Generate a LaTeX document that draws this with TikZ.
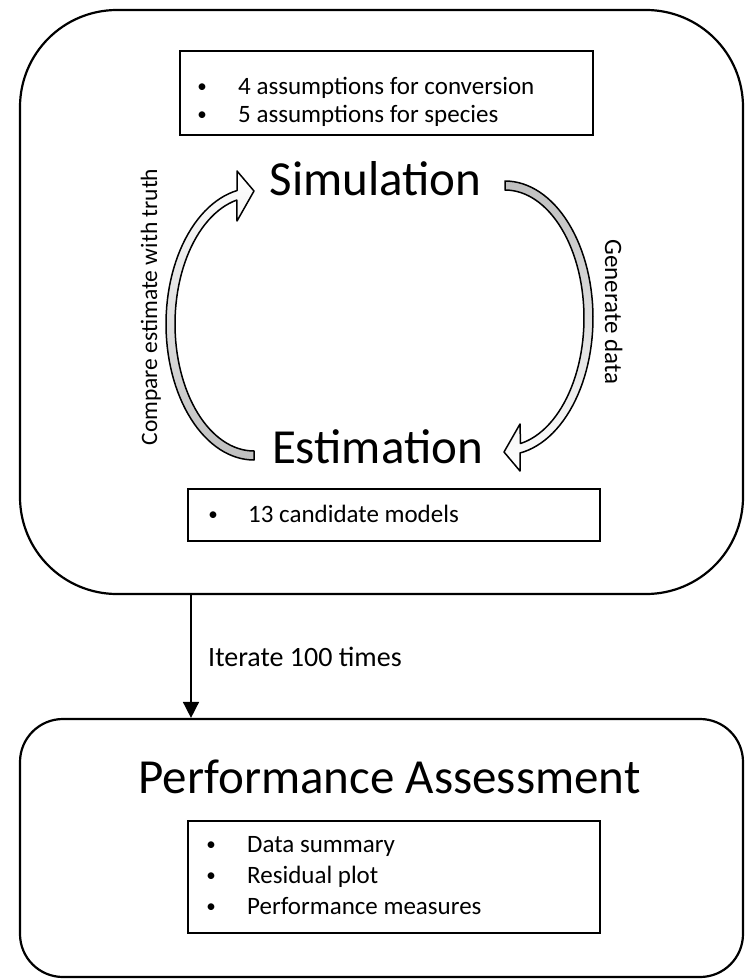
\documentclass[tikz,border=0pt]{standalone}
\usepackage{fontspec}
\setmainfont{Carlito}
\usetikzlibrary{arrows.meta}
\tikzset{
  bigbox/.style={draw, line width=2.2pt, inner sep=0pt},
  ibox/.style={draw, line width=1.6pt, inner sep=0pt},
  bul/.style={font=\fontsize{19}{24}\selectfont, anchor=base, inner sep=0pt},
  itm/.style={font=\fontsize{25}{30}\selectfont, anchor=base west, inner sep=0pt},
  ttl/.style={font=\fontsize{49}{58}\selectfont, anchor=base, inner sep=0pt},
  curvarrow/.style={draw, line width=1.5pt, line join=round},
  conn/.style={line width=1.6pt, -{Triangle[length=16pt,width=16pt]}},
}
\begin{document}
\begin{tikzpicture}[x=1pt,y=-1pt]
\useasboundingbox (0,0) rectangle (745,979);

% big boxes
\node[bigbox, rounded corners=97pt, minimum width=723pt, minimum height=584pt] (top) at (381.5,302) {};
\node[bigbox, rounded corners=43pt, minimum width=723pt, minimum height=258pt] (bot) at (381.5,848) {};

% inner boxes
\node[ibox, minimum width=413pt, minimum height=84pt] (assum) at (386.5,93) {};
\node[ibox, minimum width=412pt, minimum height=52pt] (cand) at (394,515) {};
\node[ibox, minimum width=412pt, minimum height=112pt] (perf) at (394,877) {};

% top list
\node[bul] (b1) at (202,93) {\textbullet};
\node[itm] (t1) at (238,95) {4 assumptions for conversion};
\node[bul] (b2) at (202,121) {\textbullet};
\node[itm] (t2) at (238,123) {5 assumptions for species};

% candidate list
\node[bul] (b3) at (213,520) {\textbullet};
\node[itm] (t3) at (248,522) {13 candidate models};

% bottom list
\node[bul] (b4) at (211,850) {\textbullet};
\node[itm] (t4) at (247,852) {Data summary};
\node[bul] (b5) at (211,881) {\textbullet};
\node[itm] (t5) at (247,883) {Residual plot};
\node[bul] (b6) at (211,912) {\textbullet};
\node[itm] (t6) at (247,914) {Performance measures};

% titles
\node[ttl] (sim) at (375.5,195) {Simulation};
\node[ttl] (est) at (377.5,463) {Estimation};
\node[ttl] (pa) at (389.5,793) {Performance Assessment};

% rotated labels
\node[font=\fontsize{23.5}{28}\selectfont, rotate=90, anchor=base, inner sep=0pt] (cmp) at (157,307) {Compare estimate with truth};
\node[font=\fontsize{25}{30}\selectfont, rotate=-90, anchor=base, inner sep=0pt] (gen) at (605,312) {Generate data};

% left curved arrow (estimation -> simulation)
\path[curvarrow, top color=white, bottom color=gray!50]
  plot[domain=90:258.9, samples=60] ({254+88*cos(\x)},{324+136*sin(\x)})
  -- (237,171) -- (254,191) -- (237,221)
  -- plot[domain=257.4:90, samples=60] ({254+79*cos(\x)},{324+127*sin(\x)})
  -- cycle;

% right curved arrow (simulation -> estimation)
\path[curvarrow, top color=gray!50, bottom color=white]
  plot[domain=270:440.19, samples=60] ({505+88*cos(\x)},{318+137*sin(\x)})
  -- (520,471) -- (504,452) -- (520,424)
  -- plot[domain=438.7:270, samples=60] ({505+79*cos(\x)},{318+128*sin(\x)})
  -- cycle;

% iterate connector
\coordinate (ax) at (191,0);
\draw[conn] (top.south -| ax) -- (bot.north -| ax);
\node[font=\fontsize{28}{34}\selectfont, anchor=base west, inner sep=0pt] (iter) at (208,666) {Iterate 100 times};
\end{tikzpicture}
\end{document}
